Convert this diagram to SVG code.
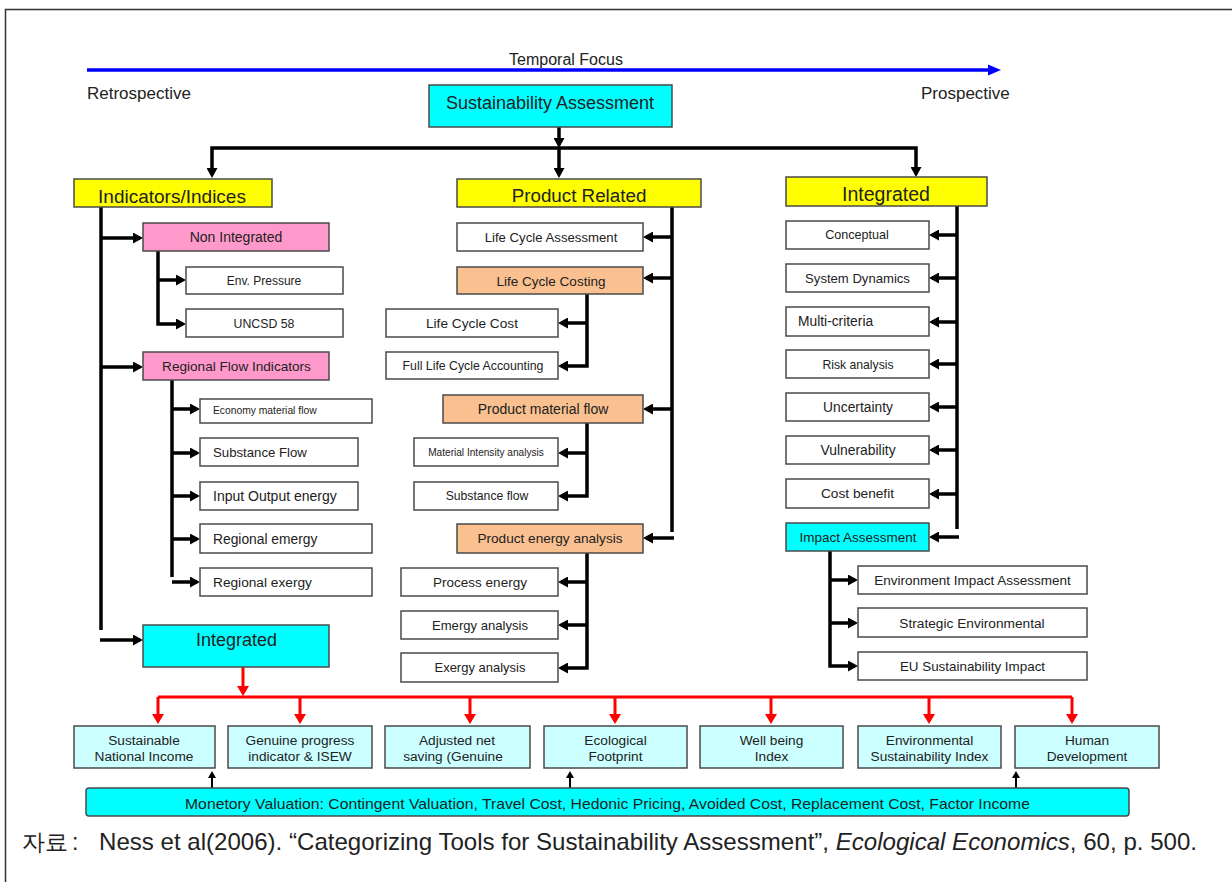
<svg xmlns="http://www.w3.org/2000/svg" width="1232" height="882" viewBox="0 0 1232 882">
<style>
text{font-family:"Liberation Sans",Arial,sans-serif;fill:#222}
.m{text-anchor:middle}
.b{stroke:#4a4a4a;stroke-width:1.5}
.w{fill:#fff}.y{fill:#ffff00}.p{fill:#ff99cc}.o{fill:#fac090}.c{fill:#00ffff}.lc{fill:#ccffff}
.k{stroke:#000;stroke-width:3.5;fill:none;marker-end:url(#ah)}
.kn{stroke:#000;stroke-width:3.5;fill:none}
.r{stroke:#ff0000;stroke-width:3;fill:none;marker-end:url(#rh)}
.rn{stroke:#ff0000;stroke-width:3;fill:none}
.s{stroke:#000;stroke-width:2;fill:none;marker-end:url(#sh)}
</style>
<defs>
<marker id="ah" markerUnits="userSpaceOnUse" markerWidth="10" markerHeight="11" viewBox="0 0 10 11" refX="7" refY="5.5" orient="auto"><path d="M0,0 L10,5.5 L0,11 z" fill="#000"/></marker>
<marker id="rh" markerUnits="userSpaceOnUse" markerWidth="10" markerHeight="12" viewBox="0 0 10 12" refX="7" refY="6" orient="auto"><path d="M0,0 L10,6 L0,12 z" fill="#ff0000"/></marker>
<marker id="sh" markerUnits="userSpaceOnUse" markerWidth="7" markerHeight="8" viewBox="0 0 7 8" refX="5" refY="4" orient="auto"><path d="M0,0 L7,4 L0,8 z" fill="#000"/></marker>
</defs>
<rect width="1232" height="882" fill="#fff"/>
<path d="M5.5,882 V9.5 H1232" fill="none" stroke="#333" stroke-width="1.5"/>

<g id="temporal">
<line x1="87" y1="70" x2="990" y2="70" stroke="#0000ff" stroke-width="3.5"/>
<polygon points="988,64.5 1001,70 988,75.5" fill="#0000ff"/>
<text class="m" x="566" y="65" font-size="16">Temporal Focus</text>
<text x="87" y="99" font-size="17">Retrospective</text>
<text x="921" y="99" font-size="17">Prospective</text>
</g>

<g id="connectors">
<path class="k" d="M559,120 V145"/>
<path class="k" d="M559,148 V175"/>
<path class="k" d="M559,148 H212 V175"/>
<path class="k" d="M559,148 H916 V174"/>
<path class="kn" d="M101,207 V630"/>
<path class="k" d="M101,238 H140"/>
<path class="k" d="M101,367 H140"/>
<path class="k" d="M100,640 H140"/>
<path class="k" d="M158,251 V324 H183"/>
<path class="k" d="M158,280 H183"/>
<path class="kn" d="M172,380 V577"/>
<path class="k" d="M172,409 H197"/>
<path class="k" d="M172,453 H197"/>
<path class="k" d="M172,496 H197"/>
<path class="k" d="M172,539 H197"/>
<path class="k" d="M172,582 H197"/>
<path class="kn" d="M672,207 V532"/>
<path class="k" d="M672,237 H646"/>
<path class="k" d="M672,278 H646"/>
<path class="k" d="M672,409 H646"/>
<path class="k" d="M674,538 H646"/>
<path class="k" d="M587,294 V366 H561"/>
<path class="k" d="M587,323 H561"/>
<path class="k" d="M587,423 V496 H561"/>
<path class="k" d="M587,453 H561"/>
<path class="k" d="M587,553 V668 H561"/>
<path class="k" d="M587,582 H561"/>
<path class="k" d="M587,625 H561"/>
<path class="kn" d="M957,206 V529"/>
<path class="k" d="M957,235 H932"/>
<path class="k" d="M957,278 H932"/>
<path class="k" d="M957,322 H932"/>
<path class="k" d="M957,364 H932"/>
<path class="k" d="M957,407 H932"/>
<path class="k" d="M957,450 H932"/>
<path class="k" d="M957,494 H932"/>
<path class="k" d="M959,537 H932"/>
<path class="k" d="M830,551 V666 H855"/>
<path class="k" d="M830,580 H855"/>
<path class="k" d="M830,623 H855"/>
<path class="r" d="M243,667 V693"/>
<path class="rn" d="M243,697 H158"/>
<path class="r" d="M158,697 V721"/>
<path class="rn" d="M243,697 H1072"/>
<path class="r" d="M1072,697 V721"/>
<path class="r" d="M300,697 V721"/>
<path class="r" d="M470,697 V721"/>
<path class="r" d="M615,697 V721"/>
<path class="r" d="M771,697 V721"/>
<path class="r" d="M929,697 V721"/>
<path class="s" d="M212,788 V773"/>
<path class="s" d="M570,788 V773"/>
<path class="s" d="M1016,788 V773"/>
</g>

<g id="sa"><rect class="b c" x="429" y="85" width="243" height="42"/><text class="m" x="550" y="109" font-size="18">Sustainability Assessment</text></g>
<g id="indicators"><rect class="b y" x="74" y="179" width="198" height="28"/><text class="m" x="172" y="203" font-size="19">Indicators/Indices</text></g>
<g id="product"><rect class="b y" x="457" y="179" width="244" height="28"/><text class="m" x="579" y="202" font-size="18.8">Product Related</text></g>
<g id="integrated-r"><rect class="b y" x="786" y="177" width="201" height="29"/><text class="m" x="886" y="201" font-size="19.5">Integrated</text></g>

<g id="non-integrated"><rect class="b p" x="143" y="223" width="186" height="28"/><text class="m" x="236" y="242" font-size="14">Non Integrated</text></g>
<g id="env-pressure"><rect class="b w" x="186" y="267" width="157" height="27"/><text class="m" x="264" y="285" font-size="12">Env. Pressure</text></g>
<g id="uncsd"><rect class="b w" x="186" y="309" width="157" height="28"/><text class="m" x="264" y="328" font-size="12.3">UNCSD 58</text></g>
<g id="regional-flow"><rect class="b p" x="143" y="352" width="186" height="28"/><text class="m" x="236.5" y="371" font-size="13.6">Regional Flow Indicators</text></g>
<g id="economy"><rect class="b w" x="200" y="399" width="172" height="24"/><text x="213" y="414" font-size="10.3">Economy material flow</text></g>
<g id="substance-r"><rect class="b w" x="200" y="438" width="158" height="28"/><text x="213" y="457" font-size="13.2">Substance Flow</text></g>
<g id="io-energy"><rect class="b w" x="200" y="482" width="158" height="28"/><text x="213" y="501" font-size="14">Input Output energy</text></g>
<g id="reg-emergy"><rect class="b w" x="200" y="524" width="172" height="29"/><text x="213" y="544" font-size="13.8">Regional emergy</text></g>
<g id="reg-exergy"><rect class="b w" x="200" y="568" width="172" height="28"/><text x="213" y="587" font-size="13.7">Regional exergy</text></g>
<g id="integrated-l"><rect class="b c" x="143" y="625" width="186" height="42"/><text class="m" x="236.5" y="646" font-size="18">Integrated</text></g>

<g id="lca"><rect class="b w" x="457" y="223" width="186" height="28"/><text class="m" x="551" y="242" font-size="13.2">Life Cycle Assessment</text></g>
<g id="lcc"><rect class="b o" x="457" y="267" width="186" height="27"/><text class="m" x="551" y="286" font-size="13.5">Life Cycle Costing</text></g>
<g id="lc-cost"><rect class="b w" x="386" y="309" width="172" height="28"/><text class="m" x="472" y="328" font-size="13.7">Life Cycle Cost</text></g>
<g id="flca"><rect class="b w" x="386" y="352" width="172" height="27"/><text class="m" x="473" y="370" font-size="12.3">Full Life Cycle Accounting</text></g>
<g id="pmf"><rect class="b o" x="443" y="395" width="200" height="28"/><text class="m" x="543" y="414" font-size="14">Product material flow</text></g>
<g id="mia"><rect class="b w" x="414" y="438" width="144" height="28"/><text class="m" x="486" y="456" font-size="10.1">Material Intensity analysis</text></g>
<g id="substance-p"><rect class="b w" x="414" y="482" width="144" height="28"/><text class="m" x="487" y="500" font-size="12.2">Substance flow</text></g>
<g id="pea"><rect class="b o" x="457" y="524" width="186" height="29"/><text class="m" x="550" y="543" font-size="13.6">Product energy analysis</text></g>
<g id="process-energy"><rect class="b w" x="401" y="568" width="157" height="28"/><text class="m" x="480" y="587" font-size="13.5">Process energy</text></g>
<g id="emergy"><rect class="b w" x="401" y="611" width="157" height="28"/><text class="m" x="480" y="630" font-size="13.1">Emergy analysis</text></g>
<g id="exergy"><rect class="b w" x="401" y="653" width="157" height="29"/><text class="m" x="480" y="672" font-size="13">Exergy analysis</text></g>

<g id="conceptual"><rect class="b w" x="786" y="221" width="143" height="28"/><text class="m" x="857" y="239" font-size="12.6">Conceptual</text></g>
<g id="system-dynamics"><rect class="b w" x="786" y="264" width="143" height="28"/><text class="m" x="857.5" y="283" font-size="13.1">System Dynamics</text></g>
<g id="multi-criteria"><rect class="b w" x="786" y="307" width="143" height="29"/><text x="798" y="326" font-size="13.8">Multi-criteria</text></g>
<g id="risk"><rect class="b w" x="786" y="350" width="143" height="28"/><text class="m" x="858" y="369" font-size="12.2">Risk analysis</text></g>
<g id="uncertainty"><rect class="b w" x="786" y="393" width="143" height="28"/><text class="m" x="858" y="412" font-size="13.8">Uncertainty</text></g>
<g id="vulnerability"><rect class="b w" x="786" y="436" width="143" height="28"/><text class="m" x="858" y="455" font-size="13.9">Vulnerability</text></g>
<g id="cost-benefit"><rect class="b w" x="786" y="479" width="143" height="29"/><text class="m" x="857.5" y="498" font-size="13.7">Cost benefit</text></g>
<g id="impact"><rect class="b c" x="786" y="523" width="143" height="28"/><text class="m" x="858" y="542" font-size="13.5">Impact Assessment</text></g>
<g id="eia"><rect class="b w" x="858" y="566" width="229" height="28"/><text class="m" x="972.5" y="585" font-size="13.5">Environment Impact Assessment</text></g>
<g id="strategic"><rect class="b w" x="858" y="608" width="229" height="29"/><text class="m" x="972" y="628" font-size="13.7">Strategic Environmental</text></g>
<g id="eu"><rect class="b w" x="858" y="652" width="229" height="28"/><text class="m" x="972.5" y="671" font-size="13.4">EU Sustainability Impact</text></g>

<g id="sni"><rect class="b lc" x="74" y="726" width="141" height="42"/><text class="m" font-size="13.7"><tspan x="144" y="745">Sustainable</tspan><tspan x="144" y="761">National Income</tspan></text></g>
<g id="gpi"><rect class="b lc" x="228" y="726" width="144" height="42"/><text class="m" font-size="13.7"><tspan x="300" y="745">Genuine progress</tspan><tspan x="300" y="761">indicator &amp; ISEW</tspan></text></g>
<g id="ans"><rect class="b lc" x="385" y="726" width="145" height="42"/><text class="m" font-size="13.7"><tspan x="457" y="745">Adjusted net</tspan><tspan x="453" y="761">saving (Genuine</tspan></text></g>
<g id="ef"><rect class="b lc" x="544" y="726" width="143" height="42"/><text class="m" font-size="13.7"><tspan x="615.5" y="745">Ecological</tspan><tspan x="615.5" y="761">Footprint</tspan></text></g>
<g id="wbi"><rect class="b lc" x="700" y="726" width="143" height="42"/><text class="m" font-size="13.7"><tspan x="771.5" y="745">Well being</tspan><tspan x="771.5" y="761">Index</tspan></text></g>
<g id="esi"><rect class="b lc" x="858" y="726" width="143" height="42"/><text class="m" font-size="13.7"><tspan x="929.5" y="745">Environmental</tspan><tspan x="929.5" y="761">Sustainability Index</tspan></text></g>
<g id="hd"><rect class="b lc" x="1015" y="726" width="144" height="42"/><text class="m" font-size="13.7"><tspan x="1087" y="745">Human</tspan><tspan x="1087" y="761">Development</tspan></text></g>

<g id="monetory"><rect class="b c" x="86" y="788" width="1043" height="28" rx="3"/><text x="185" y="809" font-size="15" textLength="845" lengthAdjust="spacingAndGlyphs">Monetory Valuation: Contingent Valuation, Travel Cost, Hedonic Pricing, Avoided Cost, Replacement Cost, Factor Income</text></g>

<g id="caption">
<text x="22" y="850" font-size="23" font-family="'Noto Sans CJK KR',sans-serif" fill="#111">자료</text>
<text x="72" y="850" font-size="23" fill="#111">:</text>
<text x="99" y="850" font-size="24" fill="#111" textLength="1098" lengthAdjust="spacingAndGlyphs">Ness et al(2006). “Categorizing Tools for Sustainability Assessment”, <tspan font-style="italic">Ecological Economics</tspan>, 60, p. 500.</text>
</g>
</svg>
